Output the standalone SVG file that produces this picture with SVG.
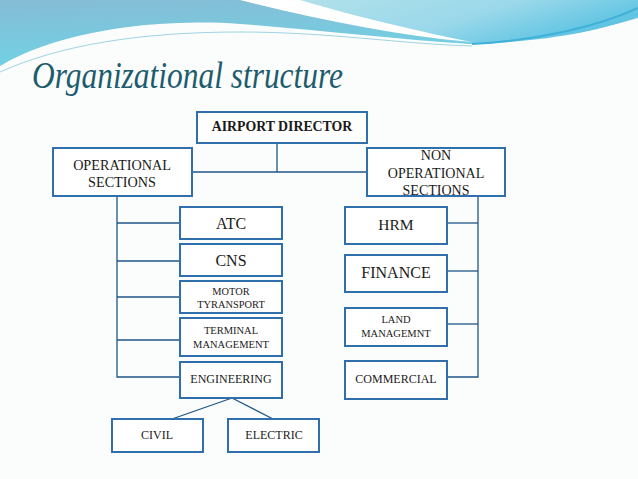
<svg xmlns="http://www.w3.org/2000/svg" width="638" height="479" viewBox="0 0 638 479">
<defs>
<linearGradient id="gL" x1="0" y1="0" x2="0.3" y2="1">
<stop offset="0" stop-color="#86bcd6"/>
<stop offset="1" stop-color="#6fd3e4"/>
</linearGradient>
<linearGradient id="gR" x1="0" y1="0" x2="1" y2="0.4">
<stop offset="0" stop-color="#b4e2ea"/>
<stop offset="0.6" stop-color="#9ad8ea"/>
<stop offset="1" stop-color="#5cc3e2"/>
</linearGradient>
<style>
.box{fill:#ffffff;stroke:#2f6fab;stroke-width:2}
.ln{fill:none;stroke:#1f5687;stroke-width:1.3}
.t{font-family:"Liberation Serif","DejaVu Serif",serif;fill:#1a1a1a;text-anchor:middle}
.title{font-family:"Liberation Serif","DejaVu Serif",serif;font-style:italic;fill:#1d5c6e}
</style>
</defs>
<rect width="638" height="479" fill="#fbfcfc"/>
<g id="background">
<path d="M0 0 H638 V18 C600 30 540 40 470 44 C400 40 320 30 240 24 C160 18 60 30 0 66 Z" fill="url(#gL)"/>
<path d="M270 0 H638 V16 C600 32 540 42 470 44 C420 38 360 20 270 0 Z" fill="url(#gR)"/>
<path d="M240 0 C320 20 400 36 472 42 C410 30 340 12 300 0 Z" fill="#ffffff"/>
<path d="M0 72 C60 45 140 32 240 32 C330 32 400 44 472 46" fill="none" stroke="#9fd4e2" stroke-width="1"/>
<path d="M472 44 C540 40 600 26 638 8" fill="none" stroke="#3fb0d8" stroke-width="2"/>
</g>
<text class="title" x="32" y="88" font-size="38" textLength="311" lengthAdjust="spacingAndGlyphs">Organizational structure</text>
<g id="connectors">
<line class="ln" x1="277" y1="143" x2="277" y2="172"/>
<line class="ln" x1="192" y1="172" x2="367" y2="172"/>
<polyline class="ln" points="117,196 117,377 180,377"/>
<line class="ln" x1="117" y1="223" x2="180" y2="223"/>
<line class="ln" x1="117" y1="261" x2="180" y2="261"/>
<line class="ln" x1="117" y1="297" x2="180" y2="297"/>
<line class="ln" x1="117" y1="340" x2="180" y2="340"/>
<polyline class="ln" points="478,196 478,377 447,377"/>
<line class="ln" x1="447" y1="223" x2="478" y2="223"/>
<line class="ln" x1="447" y1="271" x2="478" y2="271"/>
<line class="ln" x1="447" y1="324" x2="478" y2="324"/>
<line class="ln" x1="232" y1="398" x2="172" y2="419"/>
<line class="ln" x1="232" y1="398" x2="273" y2="419"/>
</g>
<g id="airport-director"><rect class="box" x="197" y="112" width="170" height="31"/><text class="t" x="282" y="131" font-size="13.8" font-weight="bold">AIRPORT DIRECTOR</text></g>
<g id="operational-sections"><rect class="box" x="53" y="148" width="139" height="48"/><text class="t" x="122" y="170" font-size="14.2">OPERATIONAL</text><text class="t" x="122" y="187" font-size="14.2">SECTIONS</text></g>
<g id="non-operational-sections"><rect class="box" x="367" y="148" width="138" height="48"/><text class="t" x="436" y="160" font-size="14">NON</text><text class="t" x="436" y="178" font-size="14">OPERATIONAL</text><text class="t" x="436" y="195" font-size="14">SECTIONS</text></g>
<g id="atc"><rect class="box" x="180" y="207" width="102" height="32"/><text class="t" x="231" y="229" font-size="16">ATC</text></g>
<g id="cns"><rect class="box" x="180" y="244" width="102" height="32"/><text class="t" x="231" y="266" font-size="16">CNS</text></g>
<g id="motor-transport"><rect class="box" x="180" y="281" width="102" height="32"/><text class="t" x="231" y="295" font-size="10.4">MOTOR</text><text class="t" x="231" y="308" font-size="10.4">TYRANSPORT</text></g>
<g id="terminal-management"><rect class="box" x="180" y="318" width="102" height="38"/><text class="t" x="231" y="334" font-size="10.5">TERMINAL</text><text class="t" x="231" y="348" font-size="10.5">MANAGEMENT</text></g>
<g id="engineering"><rect class="box" x="180" y="362" width="102" height="36"/><text class="t" x="231" y="383" font-size="12">ENGINEERING</text></g>
<g id="civil"><rect class="box" x="112" y="419" width="91" height="33"/><text class="t" x="157" y="439" font-size="12">CIVIL</text></g>
<g id="electric"><rect class="box" x="228" y="419" width="91" height="33"/><text class="t" x="274" y="439" font-size="12">ELECTRIC</text></g>
<g id="hrm"><rect class="box" x="345" y="207" width="102" height="37"/><text class="t" x="396" y="230" font-size="15.5">HRM</text></g>
<g id="finance"><rect class="box" x="345" y="255" width="102" height="37"/><text class="t" x="396" y="278" font-size="16">FINANCE</text></g>
<g id="land-management"><rect class="box" x="345" y="308" width="102" height="38"/><text class="t" x="396" y="323" font-size="10.5">LAND</text><text class="t" x="396" y="337" font-size="10.5">MANAGEMNT</text></g>
<g id="commercial"><rect class="box" x="345" y="361" width="102" height="38"/><text class="t" x="396" y="383" font-size="12">COMMERCIAL</text></g>
</svg>
